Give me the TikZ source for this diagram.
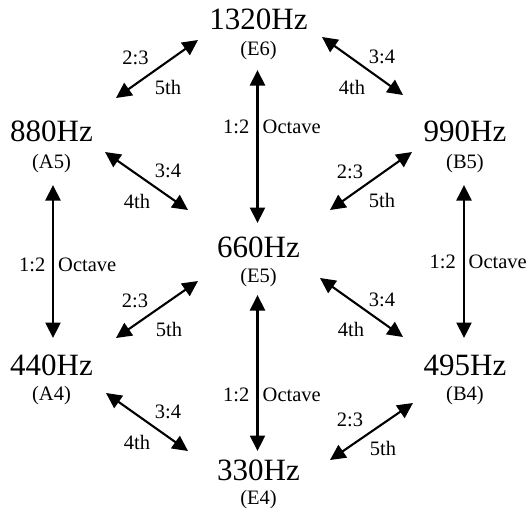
\documentclass[tikz,border=0pt]{standalone}
\usepackage{fontspec}
\setmainfont{Liberation Serif}
\usetikzlibrary{arrows.meta}
\tikzset{
  freq/.style={font=\fontsize{31}{31}\selectfont, inner sep=0pt},
  note/.style={font=\fontsize{20.5}{20.5}\selectfont, inner sep=0pt},
  ratio/.style={font=\fontsize{20.5}{20.5}\selectfont, inner sep=0pt},
  dbl/.style={line width=2.1pt, {Triangle[length=15.5pt,width=15pt]}-{Triangle[length=15.5pt,width=15pt]}}
}
\begin{document}
\begin{tikzpicture}[x=1pt,y=-1pt]
\useasboundingbox (0,0) rectangle (529,512);
% frequency nodes
\node[freq] (fE6) at (258.5,19) {1320Hz};
\node[note] (nE6) at (258.5,51) {(E6)};
\node[freq] (fA5) at (51.5,131) {880Hz};
\node[note] (nA5) at (51.5,164) {(A5)};
\node[freq] (fB5) at (465,131) {990Hz};
\node[note] (nB5) at (465,164) {(B5)};
\node[freq] (fE5) at (258.5,247) {660Hz};
\node[note] (nE5) at (258.5,278) {(E5)};
\node[freq] (fA4) at (51.5,365) {440Hz};
\node[note] (nA4) at (51.5,396) {(A4)};
\node[freq] (fB4) at (465,365) {495Hz};
\node[note] (nB4) at (465,396) {(B4)};
\node[freq] (fE4) at (258.5,470) {330Hz};
\node[note] (nE4) at (258.5,500) {(E4)};
% arrow end points
\coordinate (v1a) at (257.5,70);  \coordinate (v1b) at (257.5,223);
\coordinate (v2a) at (53,185);    \coordinate (v2b) at (53,338);
\coordinate (v3a) at (464,185);   \coordinate (v3b) at (464,338);
\coordinate (v4a) at (257.5,295); \coordinate (v4b) at (257.5,451);
\coordinate (d1a) at (116,98);  \coordinate (d1b) at (198,40);
\coordinate (d2a) at (322,37);  \coordinate (d2b) at (403,95);
\coordinate (d3a) at (105,152); \coordinate (d3b) at (188,210);
\coordinate (d4a) at (330,210); \coordinate (d4b) at (412,152);
\coordinate (d5a) at (116,338); \coordinate (d5b) at (198,281);
\coordinate (d6a) at (320,278); \coordinate (d6b) at (403,337);
\coordinate (d7a) at (106,393); \coordinate (d7b) at (188,451);
\coordinate (d8a) at (330,460); \coordinate (d8b) at (413,403);
% octave arrows
\draw[dbl] (v1a) -- (v1b);
\draw[dbl] (v2a) -- (v2b);
\draw[dbl] (v3a) -- (v3b);
\draw[dbl] (v4a) -- (v4b);
% fifth / fourth arrows
\draw[dbl] (d1a) -- (d1b);
\draw[dbl] (d2a) -- (d2b);
\draw[dbl] (d3a) -- (d3b);
\draw[dbl] (d4a) -- (d4b);
\draw[dbl] (d5a) -- (d5b);
\draw[dbl] (d6a) -- (d6b);
\draw[dbl] (d7a) -- (d7b);
\draw[dbl] (d8a) -- (d8b);
% octave labels
\node[ratio, anchor=east] (o1r) at (249.5,127) {1:2};
\node[ratio, anchor=west] (o1t) at (262.5,127) {Octave};
\node[ratio, anchor=east] (o2r) at (45.5,265) {1:2};
\node[ratio, anchor=west] (o2t) at (58,265) {Octave};
\node[ratio, anchor=east] (o3r) at (456,262) {1:2};
\node[ratio, anchor=west] (o3t) at (468.5,262) {Octave};
\node[ratio, anchor=east] (o4r) at (249.5,395) {1:2};
\node[ratio, anchor=west] (o4t) at (262.5,395) {Octave};
% interval labels
\node[ratio] (l1r) at (135.5,58) {2:3};
\node[ratio] (l1t) at (168,87) {5th};
\node[ratio] (l2r) at (382,57) {3:4};
\node[ratio] (l2t) at (352,87) {4th};
\node[ratio] (l3r) at (168,171) {3:4};
\node[ratio] (l3t) at (137,201) {4th};
\node[ratio] (l4r) at (350,172) {2:3};
\node[ratio] (l4t) at (382,200) {5th};
\node[ratio] (l5r) at (135,301) {2:3};
\node[ratio] (l5t) at (169,329) {5th};
\node[ratio] (l6r) at (382,300) {3:4};
\node[ratio] (l6t) at (351,329) {4th};
\node[ratio] (l7r) at (168,412) {3:4};
\node[ratio] (l7t) at (137,442) {4th};
\node[ratio] (l8r) at (350,420) {2:3};
\node[ratio] (l8t) at (383,448) {5th};
\end{tikzpicture}
\end{document}
